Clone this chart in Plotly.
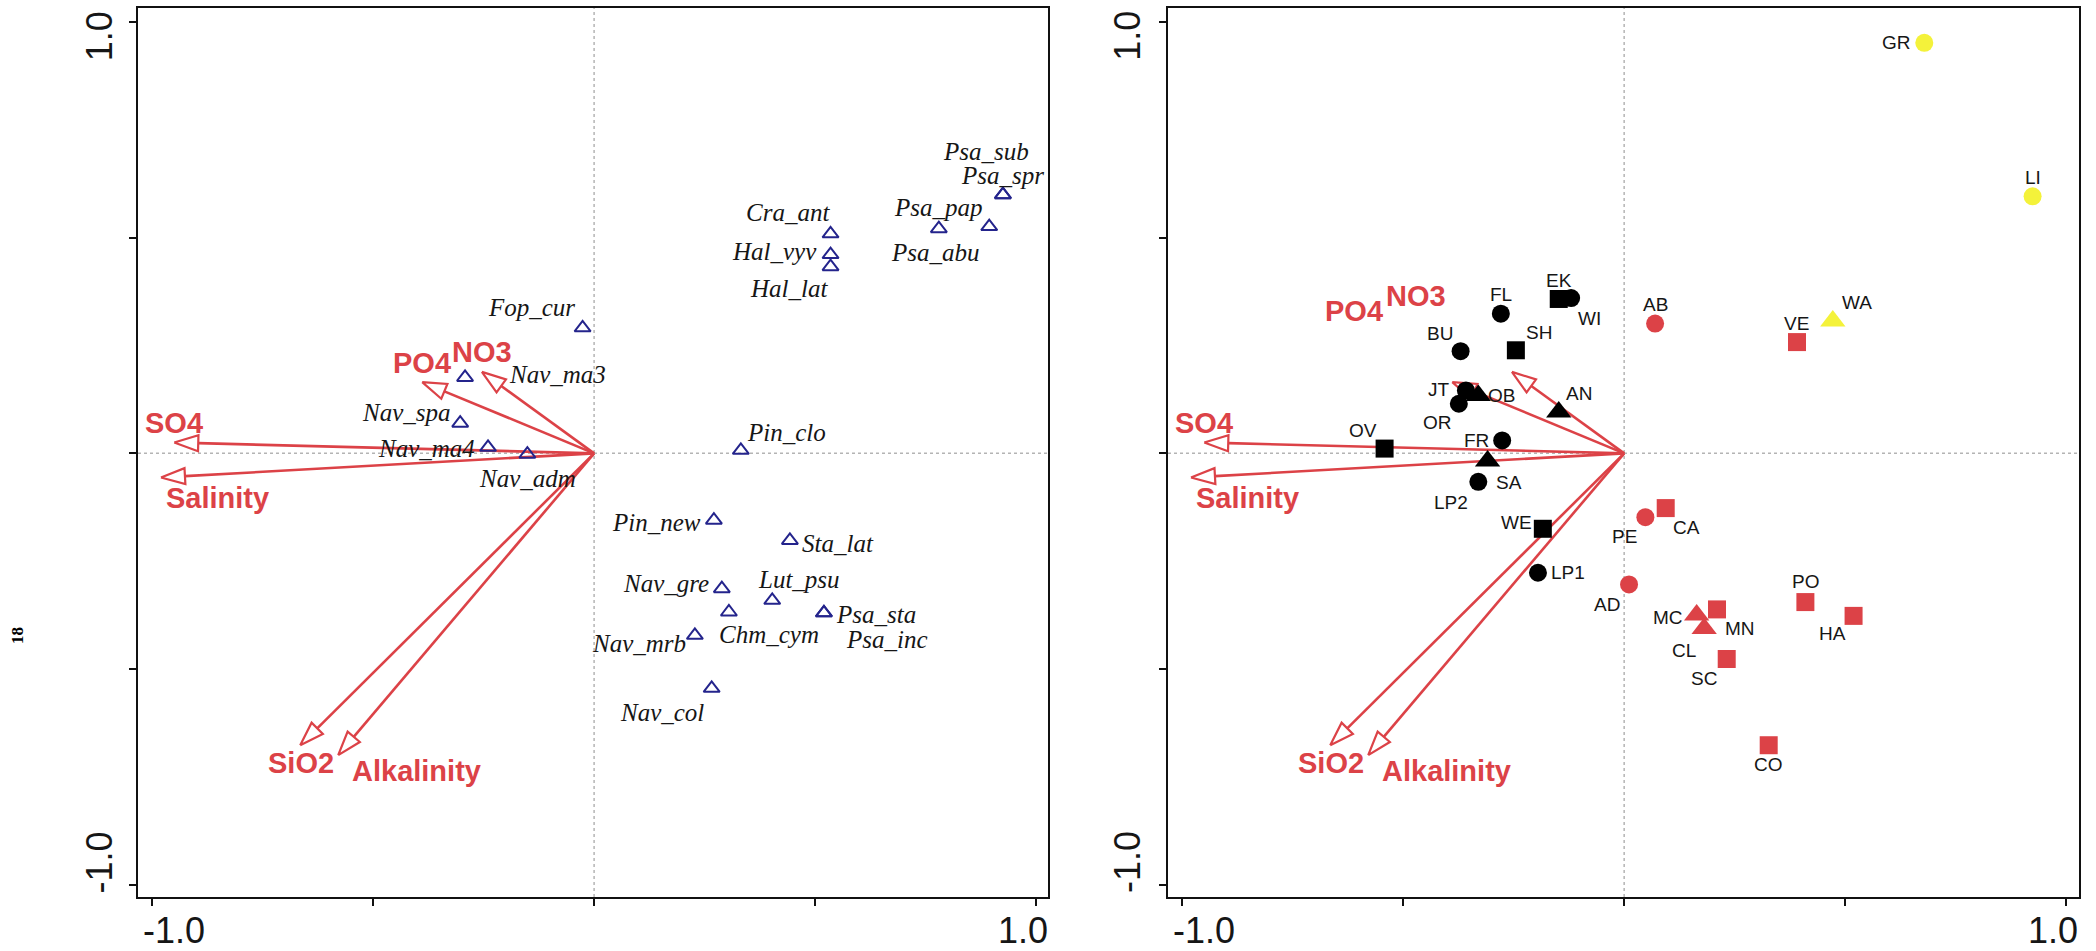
import math
import plotly.graph_objects as go

# ---------------- data ----------------
# environmental biplot arrows (same in both panels)
env_names = ["SO4", "Salinity", "PO4", "NO3", "SiO2", "Alkalinity"]
env_x = [-0.950, -0.980, -0.389, -0.254, -0.665, -0.579]
env_y = [0.025, -0.056, 0.165, 0.189, -0.677, -0.700]

# species scores (left panel)
species_names = ["Fop_cur", "Nav_ma3", "Nav_spa", "Nav_ma4", "Nav_adm",
                 "Cra_ant", "Hal_vyv", "Hal_lat", "Psa_pap", "Psa_abu",
                 "Psa_spr", "Psa_sub", "Pin_clo", "Pin_new", "Sta_lat",
                 "Nav_gre", "Lut_psu", "Chm_cym", "Psa_sta", "Psa_inc",
                 "Nav_mrb", "Nav_col"]
species_x = [-0.026, -0.292, -0.303, -0.240, -0.151,
             0.535, 0.535, 0.535, 0.780, 0.894,
             0.925, 0.925, 0.332, 0.271, 0.443,
             0.289, 0.403, 0.305, 0.520, 0.520,
             0.228, 0.266]
species_y = [0.291, 0.176, 0.070, 0.014, -0.002,
             0.509, 0.461, 0.433, 0.521, 0.526,
             0.600, 0.600, 0.007, -0.155, -0.202,
             -0.314, -0.341, -0.368, -0.370, -0.370,
             -0.422, -0.545]

# site scores (right panel)
site_names = ["EK", "WI", "FL", "AB", "BU", "SH", "JT", "OB", "OR", "AN",
              "OV", "FR", "SA", "LP2", "WE", "LP1", "PE", "CA", "AD", "MC",
              "CL", "MN", "SC", "PO", "HA", "CO", "GR", "LI", "WA", "VE"]
site_x = [-0.148, -0.120, -0.279, 0.070, -0.370, -0.245, -0.358, -0.330, -0.374, -0.148,
          -0.542, -0.276, -0.309, -0.330, -0.184, -0.195, 0.048, 0.094, 0.011, 0.164,
          0.181, 0.210, 0.232, 0.410, 0.519, 0.327, 0.679, 0.924, 0.472, 0.391]
site_y = [0.358, 0.360, 0.324, 0.301, 0.237, 0.239, 0.146, 0.134, 0.115, 0.096,
          0.011, 0.030, -0.018, -0.066, -0.175, -0.277, -0.148, -0.127, -0.304, -0.375,
          -0.406, -0.362, -0.477, -0.345, -0.377, -0.677, 0.952, 0.596, 0.307, 0.258]
# group codes: colour group (A/B/C) and type group (c/s/t)
site_group = ["A", "A", "A", "B", "A", "A", "A", "A", "A", "A",
              "A", "A", "A", "A", "A", "A", "B", "B", "B", "B",
              "B", "B", "B", "B", "B", "B", "C", "C", "C", "B"]
site_type = ["s", "c", "c", "c", "c", "s", "c", "t", "c", "t",
             "s", "c", "t", "c", "s", "c", "c", "s", "c", "t",
             "t", "s", "s", "s", "s", "s", "c", "c", "t", "s"]

tick_vals = [-1.0, -0.5, 0.0, 0.5, 1.0]
tick_text = ["-1.0", "", "", "", "1.0"]

# ---------------- styles / layout geometry ----------------
W, H = 2096, 951
RED = "#DC4247"
NAVY = "#24248C"
YELLOW = "#F4F23A"
TXT = "#161616"
group_color = {"A": "#000000", "B": RED, "C": YELLOW}
type_symbol = {"c": "circle", "s": "square", "t": "triangle-up"}
type_size = {"c": 18, "s": 18, "t": 22}

panel_px = {"L": (138, 1048), "R": (1168, 2079)}
y_px = (7.5, 897)
x_range = {"L": [-1.032, 1.027], "R": [-1.032, 1.029]}
y_range = [-1.029, 1.034]

# label offsets (pixels, screen: +x right, +y down)
species_off = {
    "Fop_cur": (-51, -20), "Nav_ma3": (92, -3), "Nav_spa": (-54, -11),
    "Nav_ma4": (-62, 1), "Nav_adm": (0, 24), "Cra_ant": (-43, -21),
    "Hal_vyv": (-56, -3), "Hal_lat": (-42, 22), "Psa_pap": (0, -21),
    "Psa_abu": (-54, 26), "Psa_spr": (0, -19), "Psa_sub": (-17, -43),
    "Pin_clo": (46, -18), "Pin_new": (-57, 2), "Sta_lat": (48, 3),
    "Nav_gre": (-56, -5), "Lut_psu": (27, -21), "Chm_cym": (40, 22),
    "Psa_sta": (52, 2), "Psa_inc": (63, 27), "Nav_mrb": (-56, 8),
    "Nav_col": (-50, 24)}
site_off = {
    "EK": (0, -18), "WI": (18, 20), "FL": (0, -19), "AB": (0, -19),
    "BU": (-21, -18), "SH": (23, -18), "JT": (-27, -1), "OB": (23, 0),
    "OR": (-21, 19), "AN": (20, -18), "OV": (-22, -18), "FR": (-26, 0),
    "SA": (21, 21), "LP2": (-27, 21), "WE": (-26, -6), "LP1": (30, 0),
    "PE": (-21, 19), "CA": (21, 19), "AD": (-22, 20), "MC": (-29, 2),
    "CL": (-20, 22), "MN": (23, 19), "SC": (-23, 19), "PO": (0, -21),
    "HA": (-21, 18), "CO": (0, 19), "GR": (-28, 0), "LI": (0, -19),
    "WA": (24, -18), "VE": (0, -19)}
env_off = {
    "L": {"SO4": (0, -20), "Salinity": (57, 21), "PO4": (0, -19),
          "NO3": (0, -20), "SiO2": (1, 18), "Alkalinity": (78, 16)},
    "R": {"SO4": (0, -20), "Salinity": (57, 21), "PO4": (-98, -71),
          "NO3": (-96, -76), "SiO2": (1, 18), "Alkalinity": (78, 16)},
}

fig = go.Figure()
annotations = []
shapes = []


def scales(panel):
    x0, x1 = panel_px[panel]
    sx = (x1 - x0) / (x_range[panel][1] - x_range[panel][0])
    sy = (y_px[1] - y_px[0]) / (y_range[1] - y_range[0])
    return sx, sy


def add_arrows(panel, xa, ya):
    sx, sy = scales(panel)
    L, Wd = 24, 8
    for name, ex, ey in zip(env_names, env_x, env_y):
        px, py = ex * sx, ey * sy
        n = math.hypot(px, py)
        ux, uy = px / n, py / n
        bx, by = px - L * ux, py - L * uy
        vx, vy = -uy, ux
        fig.add_trace(go.Scatter(x=[0, bx / sx], y=[0, by / sy], mode="lines",
                                 line=dict(color=RED, width=2.6),
                                 xaxis=xa, yaxis=ya, hoverinfo="skip", showlegend=False))
        hx = [px, bx + Wd * vx, bx - Wd * vx, px]
        hy = [py, by + Wd * vy, by - Wd * vy, py]
        fig.add_trace(go.Scatter(x=[v / sx for v in hx], y=[v / sy for v in hy],
                                 mode="lines", fill="toself", fillcolor="white",
                                 line=dict(color=RED, width=2.2),
                                 xaxis=xa, yaxis=ya, hoverinfo="skip", showlegend=False))
        dx, dy = env_off[panel][name]
        annotations.append(dict(x=ex, y=ey, xref=xa, yref=ya, text=name,
                                showarrow=False, xshift=dx, yshift=-dy,
                                font=dict(family="Liberation Sans", size=29,
                                          color=RED, weight="bold")))


def add_zero_lines(xa, ya, panel):
    shapes.append(dict(type="line", xref=xa, yref=ya, x0=0, x1=0,
                       y0=y_range[0], y1=y_range[1], layer="below",
                       line=dict(color="#b4b4b4", width=1.5, dash="dot")))
    shapes.append(dict(type="line", xref=xa, yref=ya, y0=0, y1=0,
                       x0=x_range[panel][0], x1=x_range[panel][1], layer="below",
                       line=dict(color="#b4b4b4", width=1.5, dash="dot")))


# ---------- left panel ----------
add_zero_lines("x", "y", "L")
add_arrows("L", "x", "y")
fig.add_trace(go.Scatter(x=species_x, y=species_y, mode="markers",
                         marker=dict(symbol="triangle-up-open", size=14,
                                     color=NAVY, line=dict(color=NAVY, width=2)),
                         xaxis="x", yaxis="y", showlegend=False,
                         text=species_names, hoverinfo="text"))
for n, x, y in zip(species_names, species_x, species_y):
    dx, dy = species_off[n]
    annotations.append(dict(x=x, y=y, xref="x", yref="y", text=n, showarrow=False,
                            xshift=dx, yshift=-dy,
                            font=dict(family="Liberation Serif", size=25,
                                      color=TXT, style="italic")))

# ---------- right panel ----------
add_zero_lines("x2", "y2", "R")
add_arrows("R", "x2", "y2")
for g in ["A", "B", "C"]:
    for t in ["c", "s", "t"]:
        idx = [i for i in range(len(site_names)) if site_group[i] == g and site_type[i] == t]
        if not idx:
            continue
        fig.add_trace(go.Scatter(
            x=[site_x[i] for i in idx], y=[site_y[i] for i in idx], mode="markers",
            marker=dict(symbol=type_symbol[t], size=type_size[t], color=group_color[g],
                        line=dict(width=0)),
            text=[site_names[i] for i in idx], hoverinfo="text",
            xaxis="x2", yaxis="y2", showlegend=False))
for n, x, y in zip(site_names, site_x, site_y):
    dx, dy = site_off[n]
    annotations.append(dict(x=x, y=y, xref="x2", yref="y2", text=n, showarrow=False,
                            xshift=dx, yshift=-dy,
                            font=dict(family="Liberation Sans", size=19, color=TXT)))

# ---------- tick labels ----------
tick_font = dict(family="Liberation Sans", size=36, color=TXT)
label_y_paper = (H - 930) / H
for xa, ya, panel, ylab_x in [("x", "y", "L", 99), ("x2", "y2", "R", 1127.5)]:
    for v, t in zip(tick_vals, tick_text):
        if not t:
            continue
        xs = 22 if v < 0 else -13
        annotations.append(dict(x=v, y=label_y_paper, xref=xa, yref="paper", text=t,
                                showarrow=False, xshift=xs, font=tick_font,
                                xanchor="center", yanchor="middle"))
        ys = 22 if v < 0 else -14
        annotations.append(dict(x=ylab_x / W, y=v, xref="paper", yref=ya, text=t,
                                showarrow=False, yshift=ys, textangle=-90, font=tick_font,
                                xanchor="center", yanchor="middle"))

annotations.append(dict(x=6 / W, y=(H - 646) / H, xref="paper", yref="paper", text="18",
                        showarrow=False, textangle=-90,
                        font=dict(family="Liberation Serif", size=17, color="#000000",
                                  weight="bold")))


def axis_common():
    return dict(showgrid=False, zeroline=False, showline=True, linewidth=2,
                linecolor="#111111", mirror=True, ticks="outside", ticklen=7,
                tickwidth=2, tickcolor="#111111", tickvals=tick_vals,
                showticklabels=False, fixedrange=True)


ydom = [(H - y_px[1]) / H, (H - y_px[0]) / H]
fig.update_layout(
    width=W, height=H, autosize=False,
    margin=dict(l=0, r=0, t=0, b=0),
    paper_bgcolor="white", plot_bgcolor="white",
    xaxis=dict(domain=[panel_px["L"][0] / W, panel_px["L"][1] / W], range=x_range["L"],
               anchor="y", **axis_common()),
    yaxis=dict(domain=ydom, range=y_range, anchor="x", **axis_common()),
    xaxis2=dict(domain=[panel_px["R"][0] / W, panel_px["R"][1] / W], range=x_range["R"],
                anchor="y2", **axis_common()),
    yaxis2=dict(domain=ydom, range=y_range, anchor="x2", **axis_common()),
    annotations=annotations,
    shapes=shapes,
    showlegend=False,
)

fig.write_html("out.html", config={"displayModeBar": False},
               post_script="document.body.style.margin='0';document.body.style.overflow='hidden';")
